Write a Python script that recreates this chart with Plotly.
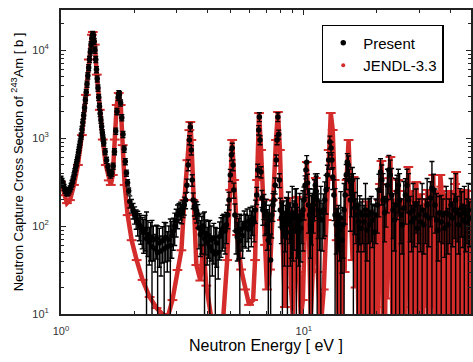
import plotly.graph_objects as go

# ---------------- data ----------------
# Present measurement: (energy eV, cross section b, uncertainty b)
present_1_to_1p9 = [
    (1.00, 340, 27), (1.01, 320, 26), (1.02, 300, 24), (1.03, 275, 22), (1.04, 255, 20),
    (1.05, 245, 20), (1.06, 238, 19), (1.07, 242, 19), (1.08, 252, 20), (1.09, 265, 21),
    (1.10, 282, 23), (1.11, 305, 24), (1.12, 335, 27), (1.13, 372, 30), (1.14, 415, 33),
    (1.15, 465, 37), (1.16, 525, 42), (1.17, 595, 48), (1.18, 685, 55), (1.19, 785, 63),
    (1.20, 905, 72), (1.21, 1050, 84), (1.22, 1250, 100), (1.23, 1500, 120), (1.24, 1800, 144),
    (1.25, 2200, 176), (1.26, 2700, 216), (1.27, 3300, 264), (1.28, 4100, 330), (1.29, 5100, 410),
    (1.30, 6300, 500), (1.31, 7800, 620), (1.32, 9500, 760), (1.33, 11500, 920), (1.34, 13500, 1080),
    (1.35, 15000, 1200), (1.36, 14500, 1160), (1.37, 12500, 1000), (1.38, 10000, 800), (1.39, 7800, 620),
    (1.40, 6000, 480), (1.41, 4700, 380), (1.42, 3700, 300), (1.43, 2900, 230), (1.44, 2300, 185),
    (1.45, 1900, 150), (1.46, 1600, 130), (1.47, 1350, 110), (1.48, 1150, 92), (1.49, 1000, 80),
    (1.50, 880, 70), (1.52, 700, 56), (1.54, 560, 45), (1.56, 470, 38), (1.58, 410, 33),
    (1.60, 380, 30), (1.62, 400, 32), (1.64, 480, 38), (1.66, 700, 56), (1.68, 1200, 96),
    (1.70, 2000, 160), (1.72, 2900, 230), (1.73, 3200, 256), (1.74, 3100, 248), (1.76, 2500, 200),
    (1.78, 1700, 136), (1.80, 1100, 88), (1.82, 750, 60), (1.84, 540, 43), (1.86, 400, 32),
    (1.88, 310, 25), (1.90, 250, 20),
]
present_1p9_to_3p3 = [
    (1.92, 190, 30), (1.95, 170, 30), (1.98, 150, 30), (2.01, 135, 30), (2.04, 122, 30),
    (2.07, 112, 35), (2.10, 103, 35), (2.13, 97, 35), (2.16, 90, 35), (2.19, 84, 35),
    (2.22, 92, 40), (2.25, 72, 72), (2.28, 80, 35), (2.31, 66, 30), (2.34, 75, 35),
    (2.37, 58, 58), (2.40, 70, 30), (2.44, 55, 25), (2.47, 72, 30), (2.50, 50, 50),
    (2.54, 64, 30), (2.58, 52, 25), (2.62, 68, 30), (2.66, 55, 55), (2.70, 74, 35),
    (2.74, 58, 28), (2.78, 70, 30), (2.82, 60, 60), (2.86, 78, 35), (2.90, 88, 35),
    (2.94, 100, 40), (2.98, 115, 40), (3.02, 133, 40), (3.06, 144, 35), (3.10, 152, 35),
    (3.14, 141, 35), (3.18, 160, 35), (3.22, 173, 40), (3.26, 197, 40),
]
present_3p3_to_6p4 = [
    (3.30, 291, 50), (3.34, 494, 70), (3.38, 949, 110), (3.41, 1334, 150), (3.44, 730, 90),
    (3.47, 333, 50), (3.50, 197, 40), (3.54, 165, 35), (3.58, 155, 35), (3.62, 148, 40),
    (3.66, 135, 40), (3.70, 95, 40), (3.75, 80, 35), (3.80, 88, 40), (3.85, 100, 40),
    (3.90, 72, 72), (3.95, 82, 35), (4.00, 66, 30), (4.05, 78, 35), (4.10, 58, 58),
    (4.15, 70, 30), (4.20, 52, 25), (4.26, 72, 35), (4.32, 48, 48), (4.38, 64, 30),
    (4.44, 50, 25), (4.50, 76, 35), (4.56, 84, 40), (4.62, 92, 40), (4.68, 96, 40),
    (4.74, 88, 40), (4.80, 103, 40), (4.86, 133, 40), (4.92, 197, 45), (4.98, 380, 60),
    (5.03, 640, 90), (5.07, 770, 100), (5.11, 494, 70), (5.15, 257, 50), (5.20, 133, 45),
    (5.26, 88, 40), (5.32, 75, 35), (5.38, 82, 40), (5.45, 68, 68), (5.52, 92, 40),
    (5.60, 78, 35), (5.68, 103, 45), (5.76, 96, 40), (5.84, 111, 45), (5.92, 92, 40),
    (6.00, 117, 45), (6.08, 103, 45), (6.16, 123, 45), (6.24, 111, 45), (6.32, 152, 45),
]
present_6p4_to_10 = [
    (6.40, 225, 50), (6.46, 433, 70), (6.52, 1233, 150), (6.56, 1733, 200), (6.60, 949, 110),
    (6.66, 411, 60), (6.72, 208, 45), (6.78, 152, 50), (6.85, 173, 55), (6.92, 133, 55),
    (7.00, 141, 60), (7.07, 103, 50), (7.14, 69, 69), (7.22, 117, 55), (7.30, 41, 40),
    (7.38, 133, 60), (7.46, 173, 60), (7.54, 197, 50), (7.62, 291, 60), (7.70, 562, 80),
    (7.76, 949, 110), (7.82, 1733, 200), (7.88, 1100, 130), (7.94, 333, 60), (8.00, 152, 55),
    (8.08, 123, 60), (8.16, 94, 94), (8.24, 133, 60), (8.32, 85, 50), (8.40, 111, 60),
    (8.48, 141, 70), (8.56, 103, 103), (8.64, 173, 70), (8.72, 123, 60), (8.80, 85, 50),
    (8.88, 103, 60), (8.96, 141, 141), (9.04, 90, 50), (9.12, 123, 70), (9.22, 173, 90),
    (9.32, 133, 133), (9.42, 103, 60), (9.52, 85, 50), (9.62, 117, 117), (9.72, 94, 55),
    (9.82, 133, 70), (9.92, 152, 100),
]
present_10_to_20 = [
    (10.02, 197, 80), (10.12, 291, 80), (10.20, 433, 90), (10.28, 530, 100), (10.36, 308, 80),
    (10.45, 173, 90), (10.55, 133, 133), (10.65, 103, 60), (10.75, 141, 80), (10.85, 117, 117),
    (10.95, 173, 90), (11.05, 225, 110), (11.15, 291, 100), (11.25, 248, 120), (11.35, 197, 197),
    (11.45, 152, 80), (11.60, 123, 70), (11.75, 141, 141), (11.90, 117, 65), (12.05, 152, 80),
    (12.20, 197, 120), (12.35, 257, 120), (12.50, 380, 110), (12.65, 562, 120), (12.80, 901, 150),
    (12.95, 770, 130), (13.05, 562, 120), (13.15, 360, 100), (13.30, 225, 110), (13.45, 133, 133),
    (13.60, 103, 55), (13.75, 79, 79), (13.90, 111, 60), (14.05, 90, 50), (14.20, 123, 123),
    (14.35, 69, 40), (14.50, 103, 60), (14.65, 152, 152), (14.80, 225, 120), (14.95, 380, 120),
    (15.10, 534, 130), (15.25, 494, 130), (15.40, 333, 110), (15.55, 197, 110), (15.70, 257, 130),
    (15.85, 333, 130), (16.00, 197, 197), (16.20, 160, 80), (16.40, 133, 70), (16.60, 173, 173),
    (16.80, 111, 60), (17.00, 141, 80), (17.20, 94, 94), (17.45, 133, 70), (17.70, 111, 60),
    (17.95, 152, 152), (18.20, 90, 50), (18.45, 133, 70), (18.70, 103, 103), (18.95, 141, 75),
    (19.20, 117, 60), (19.50, 85, 85), (19.80, 133, 70),
]
present_20_to_50 = [
    (20.1, 173, 90), (20.4, 257, 130), (20.7, 411, 170), (20.95, 333, 160), (21.2, 197, 197),
    (21.5, 141, 75), (21.8, 197, 100), (22.1, 291, 150), (22.4, 433, 200), (22.7, 380, 180),
    (23.0, 225, 225), (23.3, 152, 80), (23.6, 117, 65), (23.9, 173, 173), (24.2, 248, 130),
    (24.5, 291, 150), (24.8, 197, 197), (25.1, 133, 70), (25.4, 103, 55), (25.8, 160, 160),
    (26.2, 225, 120), (26.6, 291, 150), (27.0, 197, 197), (27.4, 141, 75), (27.8, 111, 60),
    (28.2, 152, 152), (28.6, 123, 65), (29.0, 173, 90), (29.4, 94, 94), (29.8, 133, 70),
    (30.2, 111, 60), (30.7, 152, 152), (31.2, 103, 55), (31.7, 133, 70), (32.2, 173, 173),
    (32.7, 123, 65), (33.2, 208, 110), (33.7, 270, 270), (34.2, 257, 130), (34.7, 173, 90),
    (35.2, 117, 117), (35.7, 90, 50), (36.2, 141, 75), (36.8, 111, 111), (37.4, 133, 70),
    (38.0, 94, 50), (38.6, 141, 141), (39.2, 103, 55), (39.8, 133, 70), (40.4, 173, 173),
    (41.0, 123, 65), (41.6, 152, 80), (42.2, 197, 197), (42.8, 141, 75), (43.4, 103, 55),
    (44.0, 133, 133), (44.6, 160, 85), (45.2, 117, 60), (45.8, 141, 141), (46.4, 111, 60),
    (47.0, 133, 70), (47.6, 152, 152), (48.2, 123, 65),
]

# JENDL-3.3 evaluated curve: (energy eV, cross section b)
jendl_1_to_3 = [
    (1.000, 316), (1.029, 224), (1.058, 182), (1.089, 197), (1.131, 293), (1.174, 494),
    (1.219, 1080), (1.266, 3090), (1.302, 7800), (1.340, 14900), (1.352, 16000), (1.378, 11500),
    (1.404, 5250), (1.445, 2090), (1.486, 960), (1.529, 494), (1.573, 330), (1.603, 293),
    (1.634, 380), (1.665, 960), (1.696, 2370), (1.729, 3250), (1.762, 2370), (1.795, 830),
    (1.829, 293), (1.882, 133), (1.954, 69), (2.049, 41), (2.168, 24.4), (2.317, 15.6),
    (2.474, 11.7), (2.618, 10), (2.745, 9), (2.877, 14.4),
]
jendl_3_to_10 = [
    (3.017, 31.6), (3.132, 53), (3.222, 197), (3.315, 560), (3.378, 1230), (3.410, 1520),
    (3.442, 950), (3.508, 197), (3.609, 36), (3.748, 24), (3.855, 61), (3.966, 21),
    (4.158, 9), (4.399, 6.6), (4.656, 9), (4.835, 41), (4.974, 257), (5.069, 950),
    (5.166, 333), (5.314, 79), (5.519, 32), (5.731, 19), (5.951, 12.7), (6.180, 14.4),
    (6.298, 41), (6.418, 333), (6.541, 1920), (6.666, 730), (6.792, 197), (6.922, 61),
    (7.054, 19), (7.257, 32), (7.464, 197), (7.678, 950), (7.825, 1975), (7.974, 730),
    (8.127, 117), (8.360, 12), (8.519, 133), (8.682, 208), (8.847, 20), (9.016, 9),
    (9.187, 90), (9.362, 214), (9.540, 30), (9.722, 9), (9.906, 14.4),
]
jendl_10_to_17 = [
    (10.09, 117), (10.29, 534), (10.48, 117), (10.68, 9), (10.89, 32), (11.20, 351),
    (11.41, 30), (11.74, 7), (12.08, 19), (12.43, 117), (12.66, 730), (12.91, 1923),
    (13.15, 1233), (13.40, 333), (13.65, 69), (13.91, 8), (14.1, 60), (14.31, 7),
    (14.5, 120), (14.72, 30), (15.00, 333), (15.29, 949), (15.58, 197), (15.88, 41),
    (16.03, 360), (16.33, 20), (16.55, 150), (16.80, 6.6),
]
jendl_17_to_30 = [
    (17.0, 80), (17.2, 10), (17.4, 140), (17.6, 8), (17.8, 100), (18.0, 12),
    (18.2, 190), (18.4, 7), (18.6, 120), (18.8, 150), (19.0, 10), (19.2, 90),
    (19.4, 6), (19.6, 130), (19.8, 12), (20.0, 70), (20.2, 9), (20.4, 197),
    (20.6, 300), (20.88, 548), (21.05, 150), (21.2, 8), (21.4, 160), (21.6, 6),
    (21.8, 100), (22.0, 15), (22.2, 180), (22.45, 350), (22.73, 608), (22.95, 150),
    (23.15, 9), (23.35, 200), (23.55, 6), (23.75, 150), (23.95, 20), (24.15, 250),
    (24.35, 9), (24.51, 333), (24.7, 100), (24.9, 8), (25.1, 200), (25.3, 6),
    (25.5, 180), (25.7, 12), (25.9, 150), (26.1, 8), (26.35, 250), (26.6, 120),
    (26.94, 468), (27.15, 100), (27.35, 9), (27.55, 250), (27.8, 6), (28.0, 220),
    (28.25, 10), (28.5, 180), (28.75, 7), (29.05, 316), (29.3, 150), (29.55, 8),
    (29.8, 200),
]
jendl_30_to_50 = [
    (30.05, 10), (30.3, 230), (30.55, 6), (30.8, 180), (31.05, 9), (31.3, 150),
    (31.55, 12), (31.8, 200), (32.05, 40), (32.3, 257), (32.55, 9), (32.8, 150),
    (33.05, 7), (33.3, 220), (33.55, 12), (33.8, 200), (34.11, 380), (34.4, 120),
    (34.65, 8), (34.9, 250), (35.15, 6), (35.4, 200), (35.65, 10), (35.9, 230),
    (36.15, 30), (36.5, 380), (36.8, 280), (37.1, 9), (37.35, 250), (37.6, 6),
    (37.85, 200), (38.1, 10), (38.4, 230), (38.7, 8), (39.0, 200), (39.3, 12),
    (39.6, 250), (39.9, 9), (40.2, 197), (40.5, 7), (40.8, 250), (41.1, 10),
    (41.4, 200), (41.7, 8), (42.0, 300), (42.36, 411), (42.7, 200), (43.0, 9),
    (43.3, 250), (43.6, 7), (43.9, 200), (44.2, 12), (44.5, 250), (44.8, 8),
    (45.1, 200), (45.4, 10), (45.7, 220), (46.0, 257), (46.3, 9), (46.6, 200),
    (46.9, 7), (47.2, 250), (47.5, 12), (47.8, 200), (48.1, 8), (48.4, 180),
    (48.8, 10), (49.2, 200),
]

x_tick_vals = [1, 10]
x_tick_text = ["10<sup>0</sup>", "10<sup>1</sup>"]
x_minor_vals = [2, 3, 4, 5, 6, 7, 8, 9, 20, 30, 40]
y_tick_vals = [10, 100, 1000, 10000]
y_tick_text = ["10<sup>1</sup>", "10<sup>2</sup>", "10<sup>3</sup>", "10<sup>4</sup>"]
y_minor_vals = [20, 30, 40, 50, 60, 70, 80, 90, 200, 300, 400, 500, 600, 700, 800, 900,
                2000, 3000, 4000, 5000, 6000, 7000, 8000, 9000, 20000]

# ---------------- assemble ----------------
present = (present_1_to_1p9 + present_1p9_to_3p3 + present_3p3_to_6p4
           + present_6p4_to_10 + present_10_to_20 + present_20_to_50)
jendl = jendl_1_to_3 + jendl_3_to_10 + jendl_10_to_17 + jendl_17_to_30 + jendl_30_to_50

p_e = [p[0] for p in present]
p_s = [p[1] for p in present]
p_err = [p[2] for p in present]
j_e = [p[0] for p in jendl]
j_s = [p[1] for p in jendl]

RED = "#d42b2b"
FONT = "Liberation Sans, Arial, sans-serif"
AX = "#222222"

fig = go.Figure()
fig.add_trace(go.Scatter(
    x=j_e, y=j_s, mode="lines+markers", showlegend=False,
    line=dict(color=RED, width=4.5),
    marker=dict(symbol="line-ew", size=7, line=dict(color=RED, width=2)),
))
fig.add_trace(go.Scatter(
    x=p_e, y=p_s, mode="markers", name="Present",
    marker=dict(color="black", size=5.5),
    error_y=dict(type="data", array=p_err, color="black", thickness=1.4, width=2.5),
))
fig.add_trace(go.Scatter(
    x=[None], y=[None], mode="markers", name="JENDL-3.3",
    marker=dict(color=RED, size=4),
))

fig.update_xaxes(
    type="log", range=[0, 1.6885],
    tickmode="array", tickvals=x_tick_vals, ticktext=x_tick_text,
    ticks="inside", ticklen=5, tickwidth=1, tickcolor=AX,
    minor=dict(tickmode="array", tickvals=x_minor_vals, ticks="inside", ticklen=3, tickcolor=AX),
    showline=True, linewidth=2, linecolor=AX, mirror="ticks",
    showgrid=False, zeroline=False,
    tickfont=dict(size=11, color="#333333", family=FONT),
    ticklabelstandoff=6,
    title=dict(text="Neutron Energy [ eV ]", font=dict(size=16, color="black", family=FONT), standoff=4),
)
fig.update_yaxes(
    type="log", range=[1, 4.4545],
    tickmode="array", tickvals=y_tick_vals, ticktext=y_tick_text,
    ticks="inside", ticklen=5, tickwidth=1, tickcolor=AX,
    minor=dict(tickmode="array", tickvals=y_minor_vals, ticks="inside", ticklen=3, tickcolor=AX),
    showline=True, linewidth=2, linecolor=AX, mirror="ticks",
    showgrid=False, zeroline=False,
    tickfont=dict(size=11, color="#333333", family=FONT),
    ticklabelstandoff=8,
    title=dict(text="Neutron Capture Cross Section of <sup>243</sup>Am [ b ]",
               font=dict(size=13, color="black", family=FONT), standoff=6),
)
fig.update_layout(
    width=473, height=362,
    margin=dict(l=61, r=0, t=10, b=48),
    paper_bgcolor="white", plot_bgcolor="white",
    font=dict(family=FONT, color="black"),
    legend=dict(
        x=0.636, y=0.951, xanchor="left", yanchor="top",
        bordercolor="black", borderwidth=1.5, bgcolor="white",
        font=dict(size=15, family=FONT, color="black"),
        itemwidth=30, entrywidth=92, tracegroupgap=0,
    ),
)
fig.write_html("out.html")
